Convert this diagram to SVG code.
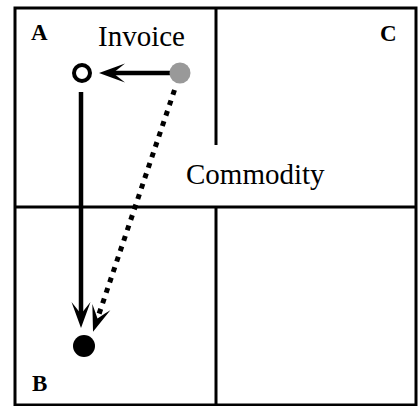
<svg xmlns="http://www.w3.org/2000/svg" width="419" height="406" viewBox="0 0 419 406">
<style>
.frame{fill:none;stroke:#000;stroke-width:3}
.lbl{font-family:"Liberation Serif","Times New Roman",serif;fill:#000}
.corner{font-size:23px;font-weight:bold}
.name{font-size:29px}
.edge{stroke:#000;stroke-width:4.5;fill:none}
.dotted{stroke-dasharray:5 6;stroke-width:5}
</style>
<defs>
<marker id="dart" markerUnits="userSpaceOnUse" viewBox="0 0 28 20" markerWidth="28" markerHeight="20" refX="12" refY="10" orient="auto">
<path d="M26,10 L0,0.5 L5,4.5 L12,10 L5,15.5 L0,19.5 Z" fill="#000"/>
</marker>
</defs>
<rect width="419" height="406" fill="#fff"/>
<g id="grid">
<rect class="frame" x="15" y="8" width="401" height="397"/>
<line class="frame" x1="216" y1="8" x2="216" y2="145"/>
<line class="frame" x1="216" y1="207" x2="216" y2="405"/>
<line class="frame" x1="15" y1="207" x2="416" y2="207"/>
</g>
<g id="labels">
<text class="lbl corner" x="31" y="40" font-family="Liberation Serif, serif">A</text>
<text class="lbl corner" x="380" y="41" font-family="Liberation Serif, serif">C</text>
<text class="lbl corner" x="32" y="391" font-family="Liberation Serif, serif">B</text>
<text class="lbl name" x="98" y="46" font-family="Liberation Serif, serif">Invoice</text>
<text class="lbl name" x="186" y="184" font-family="Liberation Serif, serif">Commodity</text>
</g>
<g id="connectors">
<line class="edge" x1="170" y1="73" x2="113" y2="73" marker-end="url(#dart)"/>
<line class="edge" x1="81" y1="92" x2="81" y2="314" marker-end="url(#dart)"/>
<line class="edge dotted" x1="174.5" y1="90" x2="97.5" y2="318.5" marker-end="url(#dart)"/>
</g>
<g id="node-open">
<circle cx="82" cy="73" r="8" fill="#fff" stroke="#000" stroke-width="4"/>
</g>
<g id="node-gray">
<circle cx="180" cy="73" r="10.5" fill="#999"/>
</g>
<g id="node-black">
<circle cx="84" cy="346" r="11" fill="#000"/>
</g>
</svg>
